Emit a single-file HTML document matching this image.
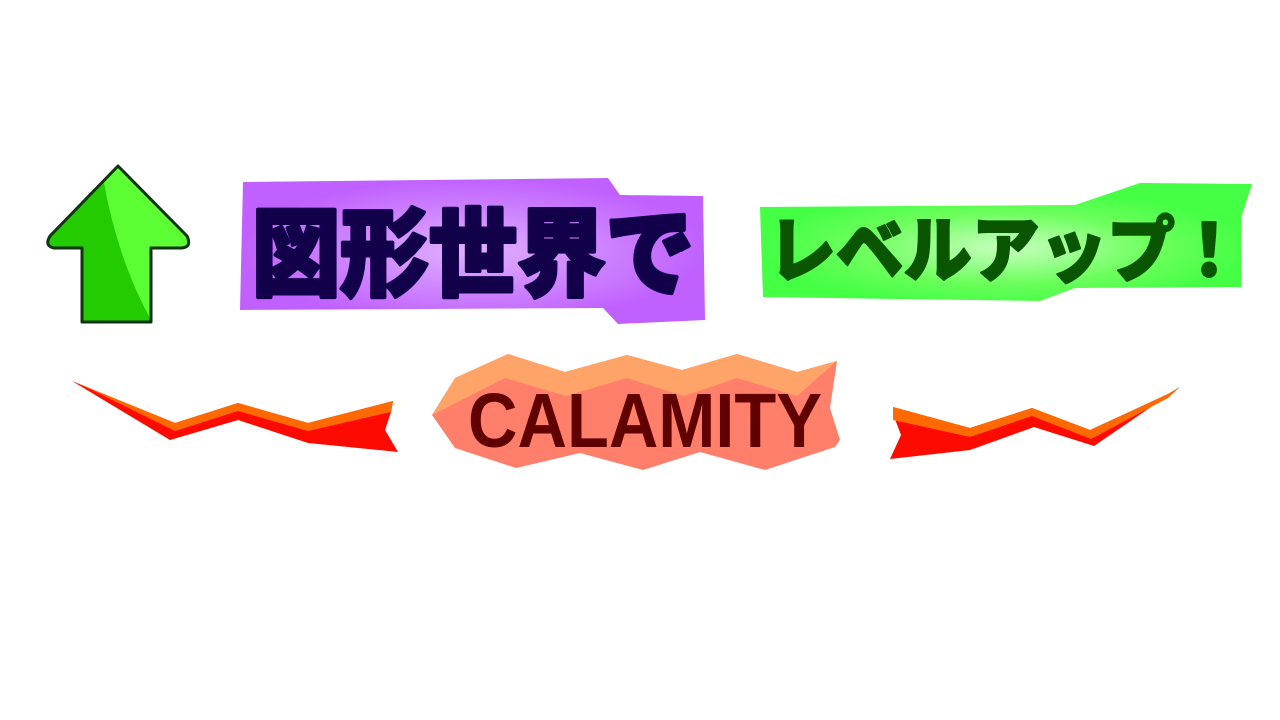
<!DOCTYPE html>
<html><head><meta charset="utf-8"><style>html,body{margin:0;padding:0;background:#fff}svg{display:block}</style></head>
<body>
<svg width="1280" height="720" viewBox="0 0 1280 720" xmlns="http://www.w3.org/2000/svg">
<defs>
<radialGradient id="pg" cx="0.5" cy="0.5" r="0.5">
<stop offset="0" stop-color="#e0b0ff"/><stop offset="0.6" stop-color="#cc80ff"/><stop offset="1" stop-color="#c060ff"/></radialGradient>
<radialGradient id="gg" cx="0.5" cy="0.55" r="0.5">
<stop offset="0" stop-color="#c8ffc0"/><stop offset="0.6" stop-color="#6cff5c"/><stop offset="1" stop-color="#44ff44"/></radialGradient>
</defs>
<!-- arrow -->
<path d="M118,166 L187,236 Q192,247 182,248 L151,248 L151,322 L82,322 L82,248 L54,248 Q44,246 50,236 Z" fill="#22cc00"/>
<path d="M104,183 L118,166 L187,236 Q192,247 182,248 L151,248 L151,320 Q118,260 104,183 Z" fill="#5cff33"/>
<path d="M118,166 L187,236 Q192,247 182,248 L151,248 L151,322 L82,322 L82,248 L54,248 Q44,246 50,236 Z" fill="none" stroke="#113311" stroke-width="3" stroke-linejoin="round"/>
<!-- purple -->
<polygon points="243,182 608,178 620,195 703,196 705,320 618,324 603,308 240,310" fill="url(#pg)"/>
<text x="252" y="288" font-family="Noto Sans CJK JP, sans-serif" font-weight="900" font-size="96" fill="#13004a" stroke="#13004a" stroke-width="4" stroke-linejoin="round" textLength="442" lengthAdjust="spacingAndGlyphs">図形世界で</text>
<!-- green -->
<polygon points="760,207 1075,205 1140,183 1252,184 1241,218 1241,287 1075,288 1040,301 763,297" fill="url(#gg)"/>
<text x="768" y="276" font-family="Noto Sans CJK JP, sans-serif" font-weight="900" font-size="72" fill="#0a5500" stroke="#0a5500" stroke-width="2" stroke-linejoin="round" textLength="475" lengthAdjust="spacingAndGlyphs">レベルアップ！</text>
<!-- left zigzag -->
<polygon points="72,381 175,423 238,403 308,423 393,401 391,412 385,430 398,452 308,443 238,420 170,440" fill="#ff0a00"/>
<polygon points="72,381 175,423 238,403 308,423 393,401 391,412 308,431 238,411 175,431 92,390" fill="#ff6a00"/>
<!-- right zigzag -->
<polygon points="1180,387 1094,446 1034,427 970,450 890,459 901,435 893,414 893,407 970,428 1032,408 1090,430 1168,394" fill="#ff0a00"/>
<polygon points="1180,387 1168,394 1090,430 1032,408 970,428 893,407 893,420 970,437 1032,416 1091,439 1168,398" fill="#ff6a00"/>
<!-- calamity -->
<polygon points="432,415 455,378 508,354 565,372 627,355 682,370 737,354 797,372 837,361 830,408 840,440 835,447 765,470 700,452 643,470 580,453 516,468 455,448" fill="#ff7f6a"/>
<polygon points="432,415 455,378 508,354 565,372 627,355 682,370 737,354 797,372 837,361 797,396 737,378 684,396 627,378 566,396 505,378" fill="#ffa468"/>
<text x="468" y="447" font-family="Liberation Sans, sans-serif" font-weight="bold" font-size="77" fill="#600000" textLength="354" lengthAdjust="spacingAndGlyphs">CALAMITY</text>
</svg>
</body></html>
